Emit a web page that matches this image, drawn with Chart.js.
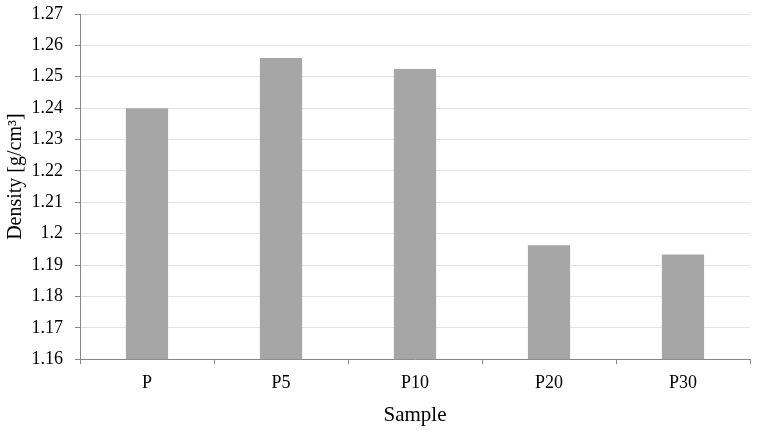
<!DOCTYPE html>
<html>
<head>
<meta charset="utf-8">
<script src="https://cdn.jsdelivr.net/npm/chart.js@4/dist/chart.umd.min.js"></script>
<style>
html,body{margin:0;padding:0;background:#fff;}
#wrap{width:758px;height:434px;position:relative;}
</style>
</head>
<body>
<div id="wrap"><canvas id="c" width="758" height="434"></canvas></div>
<script>
const categories = ["P", "P5", "P10", "P20", "P30"];
const density = [1.240, 1.256, 1.2525, 1.1963, 1.1934];
const yTicks = [1.16, 1.17, 1.18, 1.19, 1.2, 1.21, 1.22, 1.23, 1.24, 1.25, 1.26, 1.27];
const xTitle = "Sample";
const yTitle = "Density [g/cm³]";

const FONT = "'Liberation Serif', 'Times New Roman', serif";
new Chart(document.getElementById('c'), {
  type: 'bar',
  data: {
    labels: categories,
    datasets: [{
      data: density,
      backgroundColor: '#a6a6a6',
      borderWidth: 0,
      categoryPercentage: 1,
      barPercentage: 0.315
    }]
  },
  options: {
    responsive: false,
    animation: false,
    devicePixelRatio: 1,
    layout: { padding: { top: 14, right: 8, left: 2, bottom: 6 } },
    plugins: { legend: { display: false }, tooltip: { enabled: false } },
    scales: {
      x: {
        offset: true,
        grid: { offset: true, drawOnChartArea: false, drawTicks: true, tickLength: 5, color: '#868686', tickColor: '#868686' },
        border: { display: true, color: '#868686', width: 1 },
        ticks: { color: '#000', font: { family: FONT, size: 18 }, padding: 8 },
        title: { display: true, text: xTitle, color: '#000', font: { family: FONT, size: 21 }, padding: { top: 1, bottom: 0 } }
      },
      y: {
        min: 1.16, max: 1.27,
        afterBuildTicks: (axis) => { axis.ticks = yTicks.map(v => ({ value: v })); },
        afterFit: (axis) => { axis.width = 78; axis.paddingTop = 0; axis.paddingBottom = 0; },
        grid: { color: '#e3e3e3', lineWidth: 1, drawTicks: true, tickLength: 5, tickColor: '#868686' },
        border: { display: true, color: '#868686', width: 1 },
        ticks: {
          color: '#000', font: { family: FONT, size: 18 }, padding: 12,
          callback: (v) => String(Math.round(v * 100) / 100)
        },
        title: { display: true, text: "\u2002\u2002" + yTitle, color: '#000', font: { family: FONT, size: 20 }, padding: { top: 2, bottom: 4 } }
      }
    }
  }
});
</script>
</body>
</html>
